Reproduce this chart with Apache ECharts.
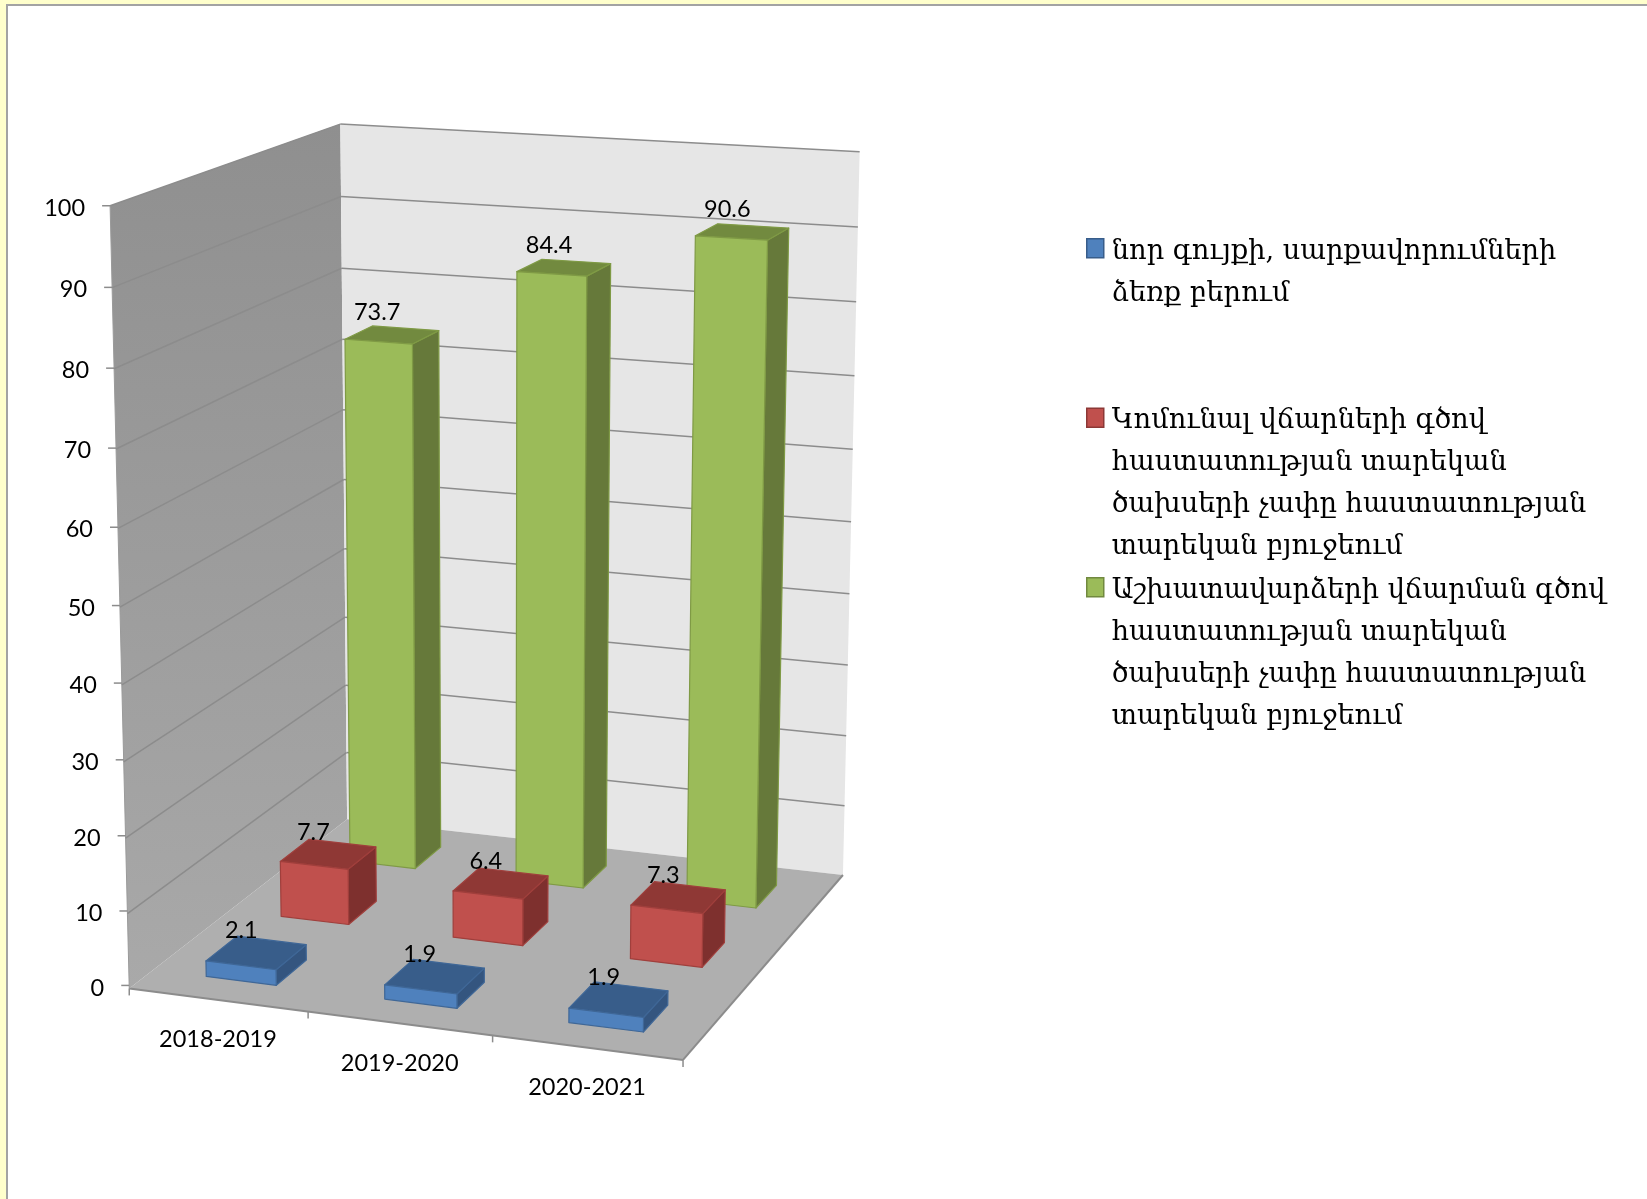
<!DOCTYPE html>
<html><head><meta charset="utf-8">
<style>html,body{margin:0;padding:0;background:#ffffcc}#c{width:1647px;height:1199px}</style>
<script src="https://cdn.jsdelivr.net/npm/echarts@6/dist/echarts.min.js"></script>
</head><body><div id="c"></div>
<script>
const categories = ['2018-2019', '2019-2020', '2020-2021'];
const yTicks = [0, 10, 20, 30, 40, 50, 60, 70, 80, 90, 100];
const newEquipment = [2.1, 1.9, 1.9];
const utilities = [7.7, 6.4, 7.3];
const wages = [73.7, 84.4, 90.6];
const nameNew = 'նոր գույքի, սարքավորումների ձեռք բերում';
const nameUtil = 'Կոմունալ վճարների գծով հաստատության տարեկան ծախսերի չափը հաստատության տարեկան բյուջեում';
const nameWage = 'Աշխատավարձերի վճարման գծով հաստատության տարեկան ծախսերի չափը հաստատության տարեկան բյուջեում';
const legendLines = {
  [nameNew]: ['նոր գույքի, սարքավորումների', 'ձեռք բերում', ' ', ' '],
  [nameUtil]: ['Կոմունալ վճարների գծով', 'հաստատության տարեկան', 'ծախսերի չափը հաստատության', 'տարեկան բյուջեում'],
  [nameWage]: ['Աշխատավարձերի վճարման գծով', 'հաստատության տարեկան', 'ծախսերի չափը հաստատության', 'տարեկան բյուջեում']
};

// Camera of the 3D box: (across, value, depth) fractions -> picture, fitted to the box outline
const fitPts = [
  [0,0,0,130,988],[1,0,0,683,1060],[0,1,0,110,206],[0,1,1,340,124],[1,1,1,860,152],
  [1,0,1,843,874],[0,0,1,347,820],[1/3,0,0,308,1012],[2/3,0,0,492,1036],[0,.5,0,120,606]
];
function solveCamera(pts){
  const rows=[],rhs=[];
  pts.forEach(([u,v,w,x,y])=>{
    x/=1000;y/=1000;
    rows.push([u,v,w,1,0,0,0,0,-x*u,-x*v,-x*w]);rhs.push(x);
    rows.push([0,0,0,0,u,v,w,1,-y*u,-y*v,-y*w]);rhs.push(y);
  });
  const n=11,A=[];
  for(let i=0;i<n;i++){A.push([]);for(let j=0;j<=n;j++){let s=0;
    rows.forEach((r,k)=>{s+=r[i]*(j<n?r[j]:rhs[k]);});A[i].push(s);}}
  for(let i=0;i<n;i++){let p=i;for(let k=i+1;k<n;k++)if(Math.abs(A[k][i])>Math.abs(A[p][i]))p=k;
    [A[i],A[p]]=[A[p],A[i]];
    for(let k=0;k<n;k++){if(k===i)continue;const f=A[k][i]/A[i][i];for(let j=i;j<=n;j++)A[k][j]-=f*A[i][j];}}
  return A.map((r,i)=>r[n]/r[i]);
}
const cam=solveCamera(fitPts);
function project(u,v,w){
  const d=cam[8]*u+cam[9]*v+cam[10]*w+1;
  return [1000*(cam[0]*u+cam[1]*v+cam[2]*w+cam[3])/d,1000*(cam[4]*u+cam[5]*v+cam[6]*w+cam[7])/d];
}
const GRID={left:200,top:200,width:600,height:600};
function toUV(api,cat,val){
  const p=api.coord([cat,val]);
  return [(p[0]-GRID.left)/GRID.width,1-(p[1]-GRID.top)/GRID.height];
}
const FONT='Lato, "Open Sans", sans-serif';
const barW=0.132, barD=0.135;

function barSeries(name,values,row,front,top,side,edge,z){
  return {
    name,type:'custom',coordinateSystem:'cartesian2d',z,silent:true,
    encode:{x:0,y:1},
    itemStyle:{color:front},
    data:values.map((v,i)=>[i,v]),
    renderItem(params,api){
      const [uc,vt]=toUV(api,api.value(0),api.value(1));
      const wc=(row+.5)/3;
      const u0=uc-barW/2,u1=uc+barW/2,w0=wc-barD/2,w1=wc+barD/2;
      const poly=(pts,fill)=>({type:'polygon',shape:{points:pts},style:{fill,stroke:edge,lineWidth:1.2,lineJoin:'round'}});
      const c=project(uc,vt,wc);
      return {type:'group',children:[
        poly([project(u1,0,w0),project(u1,0,w1),project(u1,vt,w1),project(u1,vt,w0)],side),
        poly([project(u0,vt,w0),project(u1,vt,w0),project(u1,vt,w1),project(u0,vt,w1)],top),
        poly([project(u0,0,w0),project(u1,0,w0),project(u1,vt,w0),project(u0,vt,w0)],front),
        {type:'text',z2:10,style:{text:String(api.value(1)),x:c[0]-15,y:c[1]-22,align:'center',verticalAlign:'middle',font:'23.5px '+FONT,fill:'#000'}}
      ]};
    }
  };
}
const frameColor='#8c8c8c';
const frame={
  name:'frame',type:'custom',coordinateSystem:'cartesian2d',z:1,silent:true,
  encode:{x:0,y:1},
  data:yTicks.map(t=>[0,t]),
  renderItem(params,api){
    const val=api.value(1);
    const [,v]=toUV(api,0,val);
    const ch=[];
    const line=(a,b,w,col)=>({type:'line',shape:{x1:a[0],y1:a[1],x2:b[0],y2:b[1]},style:{stroke:col||frameColor,lineWidth:w||1.5}});
    if(params.dataIndex===0){
      ch.push({type:'polygon',shape:{points:[project(0,0,0),project(0,1,0),project(0,1,1),project(0,0,1)]},
        style:{fill:new echarts.graphic.LinearGradient(0,0,0,1,[{offset:0,color:'#8f8f8f'},{offset:1,color:'#a9a9a9'}])}});
      ch.push({type:'polygon',shape:{points:[project(0,0,1),project(0,1,1),project(1,1,1),project(1,0,1)]},style:{fill:'#e6e6e6'}});
      ch.push({type:'polygon',shape:{points:[project(0,0,0),project(1,0,0),project(1,0,1),project(0,0,1)]},style:{fill:'#afafaf'}});
      ch.push(line(project(0,0,0),project(1,0,0),2));
      ch.push(line(project(1,0,0),project(1,0,1),2));
      ch.push(line(project(0,0,0),project(0,1,0),1,'#9a9a9a'));
      // category ticks and labels
      for(let j=0;j<=categories.length;j++){
        const p=project(j/categories.length,0,0);
        ch.push(line(p,[p[0],p[1]+7],1.5));
      }
      categories.forEach((name,j)=>{
        const [uc]=toUV(api,j,0);
        const p=project(uc,0,0);
        ch.push({type:'text',style:{text:name,x:p[0],y:p[1]+40,align:'center',verticalAlign:'middle',font:'23.5px '+FONT,fill:'#000'}});
      });
    }
    const a=project(0,v,0),b=project(0,v,1),c=project(1,v,1);
    if(val>0){ch.push(line(a,b,1.5));ch.push(line(b,c,1.5));}
    const tickY=a[1]-3*(1-v);
    ch.push(line([a[0]-8,tickY],[a[0],tickY],1.5));
    ch.push({type:'text',style:{text:String(val),x:a[0]-25,y:tickY+2.5,align:'right',verticalAlign:'middle',font:'23.5px '+FONT,fill:'#000'}});
    return {type:'group',children:ch};
  }
};
const swatch='path://M0 0L0 0M20 168L20 168M0 8L17 8L17 27L0 27Z';
const chart=echarts.init(document.getElementById('c'),null,{renderer:'canvas'});
chart.setOption({
  backgroundColor:'#ffffcc',animation:false,
  grid:{left:GRID.left,top:GRID.top,width:GRID.width,height:GRID.height,show:false},
  xAxis:{type:'category',data:categories,show:false},
  yAxis:{type:'value',min:0,max:100,interval:10,show:false},
  graphic:[{type:'rect',z:-10,shape:{x:7,y:5,width:1700,height:1300},style:{fill:'#fff',stroke:'#a3a3a3',lineWidth:2}}],
  legend:{
    left:1086,top:230,orient:'vertical',itemWidth:20,itemHeight:168,itemGap:0,padding:0,selectedMode:false,
    data:[
      {name:nameNew,icon:swatch,itemStyle:{color:'#4f81bd',borderColor:'#385d8a',borderWidth:1.5}},
      {name:nameUtil,icon:swatch,itemStyle:{color:'#c0504d',borderColor:'#8c3836',borderWidth:1.5}},
      {name:nameWage,icon:swatch,itemStyle:{color:'#9bbb59',borderColor:'#71893f',borderWidth:1.5}}
    ],
    formatter:n=>legendLines[n].join('\n'),
    textStyle:{fontFamily:'"DejaVu Serif"',fontSize:27.2,lineHeight:42,color:'#000'}
  },
  series:[
    frame,
    barSeries(nameNew,newEquipment,0,'#4f81bd','#385d8a','#34557f','#3f6797',5),
    barSeries(nameUtil,utilities,1,'#c0504d','#8f3835','#7e302e','#a03f3c',4),
    barSeries(nameWage,wages,2,'#9bbb59','#728a3f','#66793a','#7f9a45',3)
  ]
});
</script></body></html>
